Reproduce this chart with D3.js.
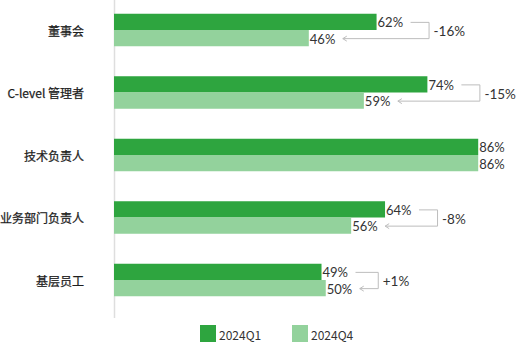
<!DOCTYPE html>
<html><head><meta charset="utf-8">
<script src="https://cdn.jsdelivr.net/npm/d3@7"></script>
<style>body{margin:0;background:#fff}svg{display:block}text{font-family:"Noto Sans CJK SC","Noto Sans",sans-serif}text.num{font-family:Lato,"Noto Sans",sans-serif}</style>
</head><body>
<svg id="c" width="517" height="351"></svg>
<script>
const categories = ["董事会", "C-level 管理者", "技术负责人", "业务部门负责人", "基层员工"];
const seriesNames = ["2024Q1", "2024Q4"];
const q1Values = [62, 74, 86, 64, 49];
const q4Values = [46, 59, 86, 56, 50];
const changeLabels = ["-16%", "-15%", "", "-8%", "+1%"];
const colors = ["#2ea53f", "#93d29c"];

const svg = d3.select("#c");
const x = d3.scaleLinear().domain([0, 100]).range([114, 537.5]);
const y = d3.scaleBand().domain(categories).range([0, 310]).paddingInner(0.48).paddingOuter(0.22);
const bh = y.bandwidth() / 2;

// axis line
svg.append("line").attr("x1", 114.5).attr("x2", 114.5).attr("y1", 0).attr("y2", 318)
  .attr("stroke", "#dedede").attr("stroke-width", 1.5);

// category labels
svg.selectAll("text.cat").data(categories).join("text")
  .attr("class", "cat").attr("x", 84).attr("y", d => y(d) + bh)
  .attr("text-anchor", "end").attr("dominant-baseline", "central")
  .attr("font-size", 12).attr("fill", "#1e1e1e").attr("stroke", "#1e1e1e").attr("stroke-width", 0.25)
  .text(d => d);

const series = [q1Values, q4Values];
series.forEach((vals, si) => {
  svg.selectAll("rect.s" + si).data(vals).join("rect")
    .attr("x", x(0)).attr("y", (d, i) => y(categories[i]) + si * bh)
    .attr("width", d => x(d) - x(0)).attr("height", bh).attr("fill", colors[si]);
  svg.selectAll("text.v" + si).data(vals).join("text")
    .attr("class", "num")
    .attr("x", d => x(d) + 1).attr("y", (d, i) => y(categories[i]) + si * bh + bh / 2 + 0.5)
    .attr("dominant-baseline", "central").attr("font-size", 13).attr("fill", "#333")
    .text(d => d + "%");
});

// change brackets
const labW = 26;
categories.forEach((c, i) => {
  if (!changeLabels[i]) return;
  const y1 = y(c) + bh / 2, y2 = y(c) + bh * 1.5;
  const xs = x(q1Values[i]) + labW + 8;
  const xe = x(q4Values[i]) + labW + 8;
  const xb = Math.max(x(q1Values[i]), x(q4Values[i])) + 52;
  const g = svg.append("g").attr("stroke", "#bdbdbd").attr("fill", "none").attr("stroke-width", 1);
  g.append("path").attr("d", `M${xs},${y1 + 0.5}H${xb + 0.5}V${y2 + 0.5}H${xe}`);
  g.append("path").attr("d", `M${xe + 4},${y2 - 2}L${xe},${y2 + 0.5}L${xe + 4},${y2 + 3}`);
  svg.append("text").attr("class", "num").attr("x", xb + 5).attr("y", (y1 + y2) / 2 + 1)
    .attr("dominant-baseline", "central").attr("font-size", 13.5).attr("fill", "#333")
    .text(changeLabels[i]);
});

// legend
const lx = [200, 292];
seriesNames.forEach((n, i) => {
  svg.append("rect").attr("x", lx[i]).attr("y", 325).attr("width", 16).attr("height", 17).attr("fill", colors[i]);
  svg.append("text").attr("x", lx[i] + 19).attr("y", 334).attr("dominant-baseline", "central")
    .attr("font-size", 12).attr("fill", "#333").text(n);
});
</script>
</body></html>
